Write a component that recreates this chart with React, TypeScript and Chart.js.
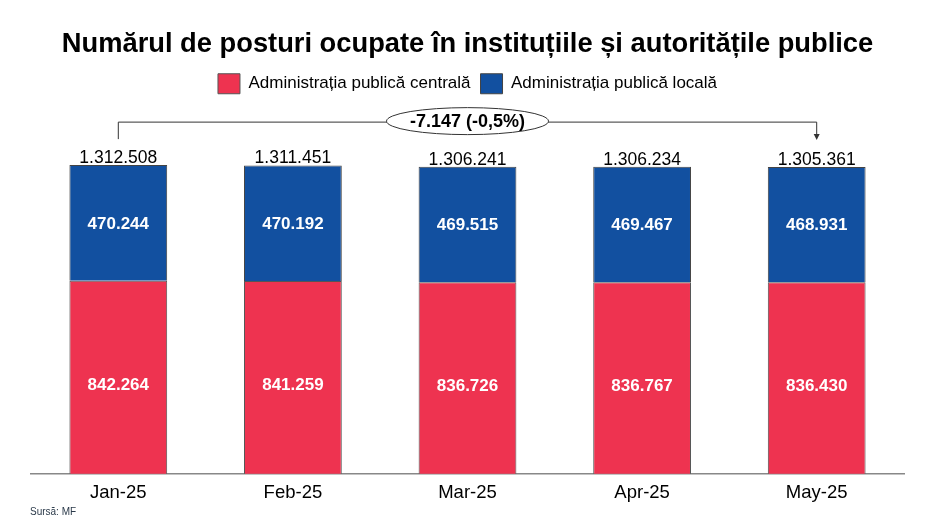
import React, { useEffect, useRef } from "react";
import { Chart, registerables } from "chart.js";

Chart.register(...registerables);

const categories = ["Jan-25", "Feb-25", "Mar-25", "Apr-25", "May-25"];
const centralValues = [842264, 841259, 836726, 836767, 836430];
const localValues = [470244, 470192, 469515, 469467, 468931];
const totalValues = [1312508, 1311451, 1306241, 1306234, 1305361];
const seriesNames = ["Administrația publică centrală", "Administrația publică locală"];
const titleText = "Numărul de posturi ocupate în instituțiile și autoritățile publice";
const sourceText = "Sursă: MF";

const RED = "#EE3350";
const BLUE = "#1250A0";
const FONT = "'Liberation Sans', Arial, sans-serif";

function fmt(n: number): string {
  const s = Math.abs(Math.round(n)).toString().replace(/\B(?=(\d{3})+(?!\d))/g, ".");
  return (n < 0 ? "-" : "") + s;
}

const overlayPlugin = {
  id: "overlay",
  afterDatasetsDraw(chart: any) {
    const ctx = chart.ctx;
    const metaC = chart.getDatasetMeta(0);
    const metaL = chart.getDatasetMeta(1);
    const y = chart.scales.y;
    ctx.save();
    // inside labels
    ctx.fillStyle = "#fff";
    ctx.font = `bold 17px ${FONT}`;
    ctx.textAlign = "center";
    ctx.textBaseline = "middle";
    metaC.data.forEach((bar: any, i: number) => {
      ctx.fillText(fmt(centralValues[i]), bar.x, (bar.y + bar.base) / 2 + 1);
    });
    metaL.data.forEach((bar: any, i: number) => {
      ctx.fillText(fmt(localValues[i]), bar.x, (bar.y + bar.base) / 2 + 1);
    });
    // totals
    ctx.fillStyle = "#000";
    ctx.font = `17.5px ${FONT}`;
    ctx.textBaseline = "alphabetic";
    metaL.data.forEach((bar: any, i: number) => {
      ctx.fillText(fmt(totalValues[i]), bar.x, y.getPixelForValue(totalValues[i]) - 2);
    });
    // bracket
    const first = metaL.data[0];
    const last = metaL.data[metaL.data.length - 1];
    const yTop = y.getPixelForValue(Math.max(...totalValues)) - 43;
    const yBot = y.getPixelForValue(Math.max(...totalValues)) - 26;
    ctx.strokeStyle = "#333";
    ctx.lineWidth = 1;
    ctx.beginPath();
    ctx.moveTo(first.x, yBot);
    ctx.lineTo(first.x, yTop);
    ctx.lineTo(last.x, yTop);
    ctx.lineTo(last.x, yBot - 2);
    ctx.stroke();
    ctx.fillStyle = "#333";
    ctx.beginPath();
    ctx.moveTo(last.x - 3, yBot - 5);
    ctx.lineTo(last.x + 3, yBot - 5);
    ctx.lineTo(last.x, yBot + 1);
    ctx.closePath();
    ctx.fill();
    // ellipse
    const cx = (first.x + last.x) / 2;
    const cy = yTop - 1;
    ctx.beginPath();
    ctx.ellipse(cx, cy, 81, 13.5, 0, 0, Math.PI * 2);
    ctx.fillStyle = "#fff";
    ctx.fill();
    ctx.stroke();
    const diff = totalValues[totalValues.length - 1] - totalValues[0];
    const pct = (diff / totalValues[0]) * 100;
    const pctStr = pct.toFixed(1).replace(".", ",");
    ctx.fillStyle = "#000";
    ctx.font = `bold 18px ${FONT}`;
    ctx.textBaseline = "middle";
    ctx.fillText(`${fmt(diff)} (${pctStr}%)`, cx, cy + 1);
    // source
    ctx.font = `10px ${FONT}`;
    ctx.fillStyle = "#2b3a4a";
    ctx.textAlign = "left";
    ctx.fillText(sourceText, 30, 512);
    ctx.restore();
  },
};

export default function App() {
  const ref = useRef<HTMLCanvasElement>(null);
  useEffect(() => {
    document.body.style.margin = "0";
    const chart = new Chart(ref.current!, {
      type: "bar",
      data: {
        labels: categories,
        datasets: [
          {
            label: seriesNames[0],
            data: centralValues,
            backgroundColor: RED,
            borderColor: "#555",
            borderWidth: 1,
            barPercentage: 0.56,
            categoryPercentage: 1,
          },
          {
            label: seriesNames[1],
            data: localValues,
            backgroundColor: BLUE,
            borderColor: "#444",
            borderWidth: 1,
            barPercentage: 0.56,
            categoryPercentage: 1,
          },
        ],
      },
      options: {
        animation: false,
        responsive: false,
        maintainAspectRatio: false,
        layout: { padding: { left: 31, right: 32, top: 0, bottom: 16 } },
        plugins: {
          title: {
            display: true,
            text: titleText,
            color: "#000",
            font: { family: FONT, size: 27.3, weight: "bold" },
            padding: { top: 28, bottom: 3 },
          },
          legend: {
            display: true,
            labels: {
              color: "#000",
              font: { family: FONT, size: 17 },
              boxWidth: 22,
              boxHeight: 20,
              padding: 10,
            },
          },
          tooltip: { enabled: false },
        },
        scales: {
          x: {
            stacked: true,
            grid: { display: false, drawTicks: false },
            border: { display: true, color: "#888", width: 1.5 },
            ticks: { color: "#000", font: { family: FONT, size: 18.5 }, padding: 8 },
          },
          y: {
            stacked: true,
            display: false,
            min: 57500,
            max: 1562000,
          },
        },
      },
      plugins: [overlayPlugin],
    });
    return () => chart.destroy();
  }, []);
  return <canvas ref={ref} width={936} height={528} style={{ display: "block" }} />;
}
